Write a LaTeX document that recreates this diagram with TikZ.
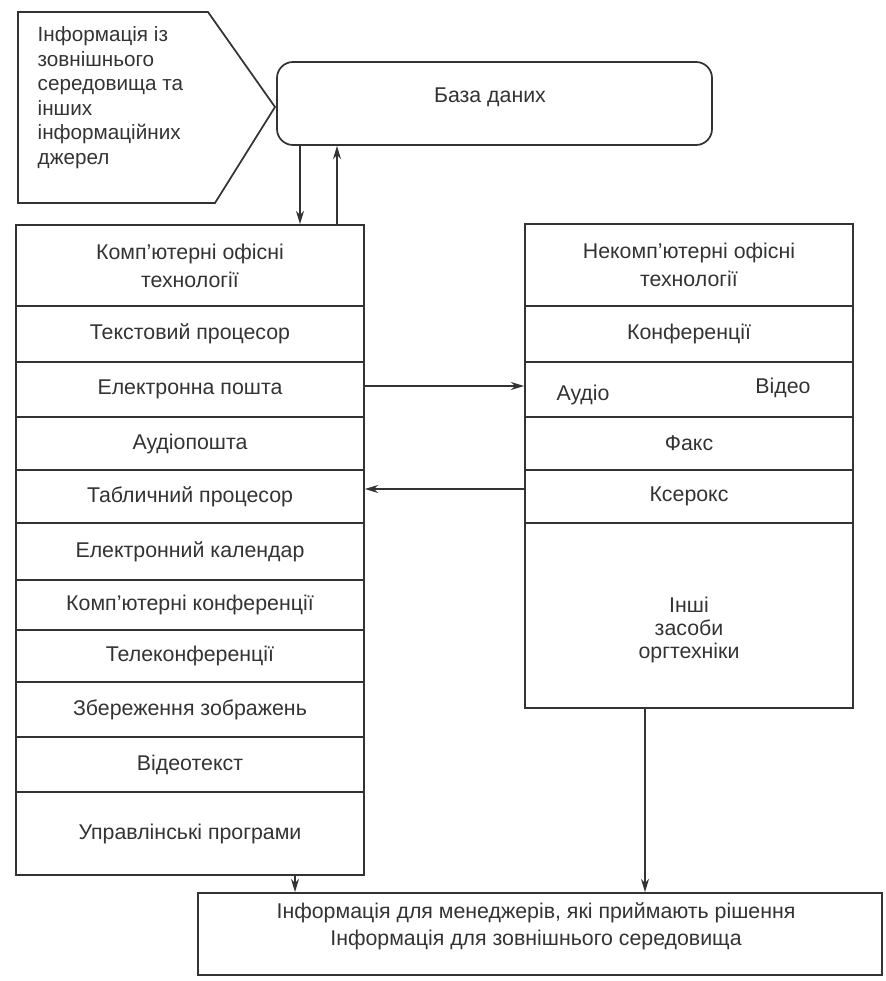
\documentclass[tikz,border=0pt]{standalone}
\usepackage{fontspec}
\setmainfont{Liberation Sans}
\usetikzlibrary{arrows.meta,calc}
\definecolor{ink}{HTML}{333333}
\begin{document}
\begin{tikzpicture}[x=0.75pt,y=-0.75pt,
  every node/.style={text=ink,font=\fontsize{16}{21}\selectfont},
  cell/.style={draw=ink,line width=1.3pt,rectangle,inner sep=0pt,align=center},
  arr/.style={draw=ink,line width=1.3pt,-{Stealth[length=10pt,width=6pt]}}]
\useasboundingbox (0,0) rectangle (885,981);

% source of external information (pentagon)
\draw[ink,line width=1.3pt] (18,12) -- (208,12) -- (275,107) -- (215,203) -- (18,203) -- cycle;
\node[anchor=north west,align=left,font=\fontsize{15.5}{18.4}\selectfont] (src) at (33,22)
  {Інформація із\\зовнішнього\\середовища та\\інших\\інформаційних\\джерел};

% database
\node[cell,rounded corners=12pt,minimum width=435*0.75pt,minimum height=83*0.75pt] (db) at (494.5,103.5) {};
\node at (490,97) {База даних};

% left column: computer office technologies
\foreach \n/\t/\b/\txt in {
  l1/225/306/{Комп’ютерні офісні\\технології},
  l2/306/362/{Текстовий процесор},
  l3/362/417/{Електронна пошта},
  l4/417/470/{Аудіопошта},
  l5/470/523/{Табличний процесор},
  l6/523/580/{Електронний календар},
  l7/580/630/{Комп’ютерні конференції},
  l8/630/682/{Телеконференції},
  l9/682/737/{Збереження зображень},
  l10/737/792/{Відеотекст},
  l11/792/875/{Управлінські програми}}
{
  \node[cell,minimum width=348*0.75pt,minimum height={(\b-\t)*0.75pt}] (\n) at (190,{(\t+\b)/2}) {\txt};
}

% right column: non-computer office technologies
\foreach \n/\t/\b/\txt in {
  r1/224/306/{Некомп’ютерні офісні\\технології},
  r2/306/362/{Конференції},
  r3/362/417/{},
  r4/417/470/{Факс},
  r5/470/523/{Ксерокс},
  r6/523/708/{}}
{
  \node[cell,minimum width=328*0.75pt,minimum height={(\b-\t)*0.75pt}] (\n) at (689,{(\t+\b)/2}) {\txt};
}
\node (audio) at (583,395) {Аудіо};
\node (video) at (783,388) {Відео};
\node[align=center,font=\fontsize{16}{17.6}\selectfont] (other) at (689,630) {Інші\\засоби\\оргтехніки};

% output information
\node[cell,minimum width=684*0.75pt,minimum height=82*0.75pt] (out) at (540,934) {};
\node[align=center,font=\fontsize{16}{20}\selectfont] (outtext) at (536,926)
  {Інформація для менеджерів, які приймають рішення\\Інформація для зовнішнього середовища};

% connectors
\coordinate (cdown) at (300,0);
\coordinate (cup) at (337,0);
\coordinate (cl) at (295,0);
\coordinate (cr) at (645,0);
\coordinate (hy1) at (0,386);
\coordinate (hy2) at (0,489);
\draw[arr] (db.south -| cdown) -- (l1.north -| cdown);
\draw[arr] (l1.north -| cup) -- (db.south -| cup);
\draw[arr] (l3.east |- hy1) -- (r3.west |- hy1);
\draw[arr] (r5.west |- hy2) -- (l5.east |- hy2);
\draw[arr] (l11.south -| cl) -- (out.north -| cl);
\draw[arr] (r6.south -| cr) -- (out.north -| cr);
\end{tikzpicture}
\end{document}
